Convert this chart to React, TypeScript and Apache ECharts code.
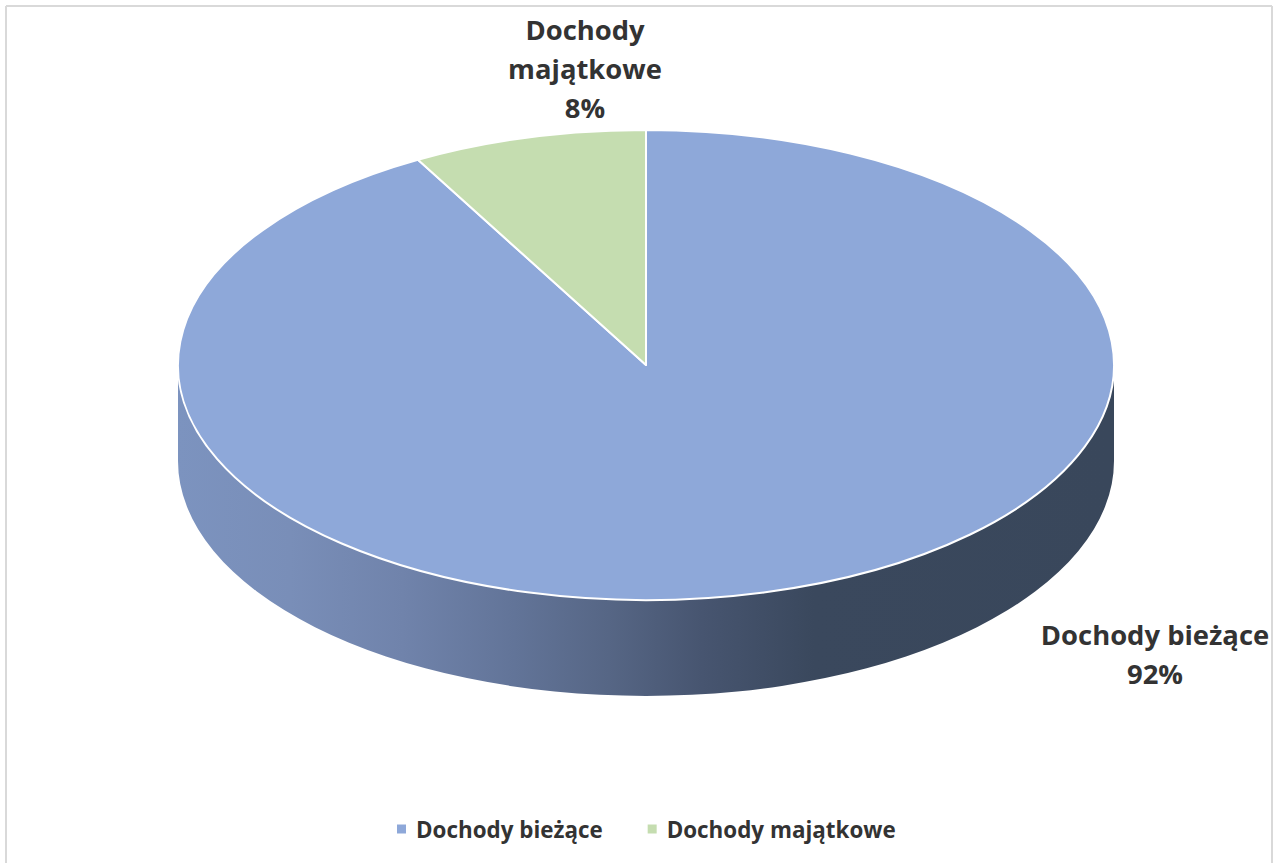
import React, { useEffect, useRef } from "react";
import * as echarts from "echarts";

const categories = ["Dochody bieżące", "Dochody majątkowe"];
const shares = [91.9, 8.1];
const percentLabels = ["92%", "8%"];
const labelLines = [["Dochody bieżące"], ["Dochody", "majątkowe"]];

const COLORS = ["#8EA8D9", "#C5DDB0"];
const TEXT = "#333333";
const FONT = "'Open Sans', sans-serif";
const CX = 646;
const CY = 365;
const RX = 468;
const RY = 235;
const DEPTH = 96;
const LABEL_POS = [
  { x: 1155, y: 653.5 },
  { x: 585, y: 68.5 },
];

const total = shares.reduce((a, b) => a + b, 0);
const pt = (deg: number, dy = 0) => {
  const r = (deg * Math.PI) / 180;
  return [CX + RX * Math.sin(r), CY - RY * Math.cos(r) + dy];
};
const arc = (from: number, to: number, dy = 0) => {
  const [x, y] = pt(to, dy);
  const sweep = to > from ? 1 : 0;
  const large = Math.abs(to - from) > 180 ? 1 : 0;
  return `A ${RX} ${RY} 0 ${large} ${sweep} ${x} ${y}`;
};

const sideGradient = () =>
  new echarts.graphic.LinearGradient(CX - RX, 0, CX + RX, 0, [
    { offset: 0, color: "#7C93BF" },
    { offset: 0.12, color: "#798EB8" },
    { offset: 0.24, color: "#7083AB" },
    { offset: 0.36, color: "#627498" },
    { offset: 0.46, color: "#566685" },
    { offset: 0.56, color: "#475570" },
    { offset: 0.68, color: "#3A485D" },
    { offset: 1, color: "#39475B" },
  ], true);

function sliceSeries(index: number) {
  const start = (shares.slice(0, index).reduce((a, b) => a + b, 0) / total) * 360;
  const renderItem = (_params: any, api: any) => {
    const end = start + (api.value(0) / total) * 360;
    const children: any[] = [];
    const from = Math.max(start, 90);
    const to = Math.min(end, 270);
    if (to > from) {
      const [ax, ay] = pt(from);
      const [bx, by] = pt(to, DEPTH);
      const d =
        `M ${ax} ${ay} ${arc(from, to)} L ${bx} ${by} ${arc(to, from, DEPTH)} Z`;
      children.push({
        type: "path",
        shape: { pathData: d },
        style: { fill: sideGradient(), stroke: "none" },
      });
    }
    const [sx, sy] = pt(start);
    children.push({
      type: "path",
      shape: { pathData: `M ${CX} ${CY} L ${sx} ${sy} ${arc(start, end)} Z` },
      style: {
        fill: COLORS[index],
        stroke: "#FFFFFF",
        lineWidth: 2,
        lineJoin: "round",
      },
    });
    children.push({
      type: "text",
      x: LABEL_POS[index].x,
      y: LABEL_POS[index].y,
      style: {
        text: [...labelLines[index], percentLabels[index]].join("\n"),
        font: `bold 27.4px ${FONT}`,
        fill: TEXT,
        align: "center",
        verticalAlign: "middle",
        lineHeight: 39,
      },
    });
    return { type: "group", children };
  };
  return {
    type: "custom" as const,
    name: categories[index],
    coordinateSystem: "none",
    renderItem,
    data: [[shares[index]]],
    itemStyle: { color: COLORS[index] },
    z: 2 + index,
  };
}

const frameLine = (x1: number, y1: number, x2: number, y2: number) => ({
  type: "line",
  shape: { x1, y1, x2, y2 },
  style: { stroke: "#D9D9D9", lineWidth: 2 },
  silent: true,
});

export default function App() {
  const ref = useRef<HTMLDivElement>(null);
  useEffect(() => {
    document.body.style.margin = "0";
    document.body.style.background = "#FFFFFF";
    const chart = echarts.init(ref.current!, undefined, { renderer: "svg" });
    chart.setOption({
      animation: false,
      backgroundColor: "#FFFFFF",
      legend: {
        data: categories,
        left: 397,
        top: 818,
        padding: 0,
        icon: "rect",
        itemWidth: 9,
        itemHeight: 9,
        itemGap: 45,
        selectedMode: false,
        textStyle: {
          color: TEXT,
          fontFamily: FONT,
          fontWeight: "bold",
          fontSize: 22.4,
          padding: [0, 0, 0, 5],
        },
      },
      graphic: [
        frameLine(6, 6, 1272, 6),
        frameLine(6, 6, 6, 863),
        frameLine(1272, 6, 1272, 863),
      ],
      series: categories.map((_, i) => sliceSeries(i)),
    });
    return () => chart.dispose();
  }, []);
  return <div ref={ref} style={{ width: 1274, height: 863, position: "fixed", left: 0, top: 0 }} />;
}
